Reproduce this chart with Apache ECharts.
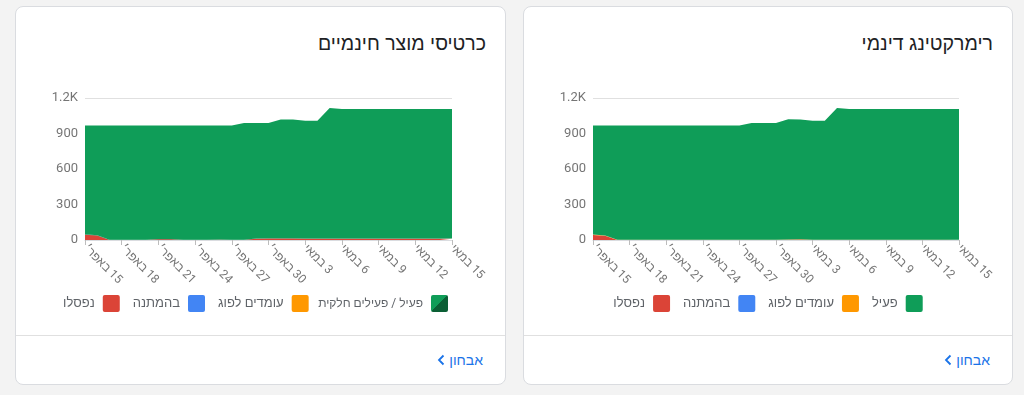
<!DOCTYPE html>
<html dir="rtl">
<head>
<meta charset="utf-8">
<script src="https://cdn.jsdelivr.net/npm/echarts@6/dist/echarts.min.js"></script>
<style>
  html, body { margin: 0; padding: 0; background: #f3f3f3; }
  body { width: 1024px; height: 395px; position: relative; overflow: hidden;
         font-family: Roboto, "Liberation Sans", Arial, sans-serif; }
  .card { position: absolute; top: 6px; height: 379px; box-sizing: border-box;
          background: #fff; border: 1px solid #dadce0; border-radius: 8px; }
  .title { position: absolute; top: 23px; right: 19px; font-size: 19.5px; line-height: 26px;
           color: #202124; font-family: "Liberation Sans", Arial, sans-serif; }
  .chart { position: absolute; left: 0; top: 0; width: 100%; height: 328px; }
  .divider { position: absolute; left: 0; right: 0; top: 328px; border-top: 1px solid #e0e0e0; }
  .link { position: absolute; right: 22px; top: 343px; font-size: 14px; line-height: 20px;
          color: #1a73e8; font-family: "Liberation Sans", Arial, sans-serif; display: flex; align-items: center; gap: 4px; }
</style>
</head>
<body>
<div class="card" style="left:15px;width:491px">
  <div class="title">כרטיסי מוצר חינמיים</div>
  <div class="chart" id="c1"></div>
  <div class="divider"></div>
  <div class="link">אבחון <svg width="8" height="12" viewBox="0 0 8 12"><path d="M6.5 1.5L2 6l4.5 4.5" fill="none" stroke="#1a73e8" stroke-width="1.8"/></svg></div>
</div>
<div class="card" style="left:523px;width:490px">
  <div class="title">רימרקטינג דינמי</div>
  <div class="chart" id="c2"></div>
  <div class="divider"></div>
  <div class="link">אבחון <svg width="8" height="12" viewBox="0 0 8 12"><path d="M6.5 1.5L2 6l4.5 4.5" fill="none" stroke="#1a73e8" stroke-width="1.8"/></svg></div>
</div>
<script>
// dates, 15 Apr .. 15 May
var days = [
  '15 באפר׳','16 באפר׳','17 באפר׳','18 באפר׳','19 באפר׳','20 באפר׳','21 באפר׳','22 באפר׳',
  '23 באפר׳','24 באפר׳','25 באפר׳','26 באפר׳','27 באפר׳','28 באפר׳','29 באפר׳','30 באפר׳',
  '1 במאי','2 במאי','3 במאי','4 במאי','5 במאי','6 במאי','7 במאי','8 במאי',
  '9 במאי','10 במאי','11 במאי','12 במאי','13 במאי','14 במאי','15 במאי'
];
var yTicks = [0, 300, 600, 900, 1200];

// free product listings
var fpActive      = [920,927,965,965,965,965,959,959,965,965,965,963,965,985,975,973,1003,1003,994,994,1103,1093,1093,1093,1093,1093,1093,1093,1093,1093,1093];
var fpPartial     = [3,3,3,3,3,3,3,3,3,3,3,3,3,3,3,3,3,3,3,3,3,3,3,3,3,3,3,3,3,3,3];
var fpExpiring    = [0,0,0,0,0,0,0,0,0,0,0,0,0,0,0,0,0,0,0,0,0,0,0,0,0,0,0,0,0,0,0];
var fpPending     = [0,0,0,0,0,0,0,0,0,0,0,0,0,0,0,0,0,0,0,0,0,0,0,0,0,0,0,0,0,0,0];
var fpDisapproved = [45,38,0,0,0,0,6,6,0,0,0,2,0,0,10,12,12,12,10,10,10,10,10,10,10,10,10,10,10,10,10];

// dynamic remarketing
var drActive      = [922,929,965,965,965,965,965,965,965,965,965,965,965,985,985,985,1015,1011,1004,1004,1113,1103,1103,1103,1103,1103,1103,1103,1103,1103,1103];
var drExpiring    = [4,4,3,3,3,3,3,3,3,3,3,3,3,3,3,3,3,3,3,3,3,3,3,3,3,3,3,3,3,3,3];
var drPending     = [0,0,0,0,0,0,0,0,0,0,0,0,0,0,0,0,0,0,0,0,0,0,0,0,0,0,0,0,0,0,0];
var drDisapproved = [42,35,0,0,0,0,0,0,0,0,0,0,0,0,0,0,2,4,0,0,0,0,0,0,0,0,0,0,0,0,0];

var GREEN = '#0f9d58', DARK = '#0b5f35', ORANGE = '#ff9800', BLUE = '#4285f4', RED = '#db4437';
var FONT = 'Roboto, "Liberation Sans", Arial, sans-serif';
var box = 'path://M2,0H15A2,2 0 0 1 17,2V15A2,2 0 0 1 15,17H2A2,2 0 0 1 0,15V2A2,2 0 0 1 2,0Z';
// two-tone icon: hard stop along the anti-diagonal
var splitFill = new echarts.graphic.LinearGradient(0, 0, 1, 1, [
  { offset: 0, color: GREEN }, { offset: 0.5, color: GREEN },
  { offset: 0.5, color: DARK }, { offset: 1, color: DARK }
]);

function area(name, color, data) {
  return {
    name: name, type: 'line', stack: 'all', data: data,
    showSymbol: false, symbol: 'none', lineStyle: { width: 0 },
    areaStyle: { color: color, opacity: 1 }, itemStyle: { color: color },
    silent: true, animation: false
  };
}

function legend(data, pos, size) {
  var l = {
    data: data, top: 283, align: 'right',
    itemWidth: 17, itemHeight: 17, itemGap: 13, selectedMode: false,
    textStyle: { fontSize: size || 13, color: '#5f6368', fontFamily: FONT, padding: [0, 3, 0, 0] }
  };
  for (var k in pos) l[k] = pos[k];
  return l;
}

function draw(id, series, legends) {
  var chart = echarts.init(document.getElementById(id));
  chart.setOption({
    animation: false,
    textStyle: { fontFamily: FONT },
    grid: { left: 69, right: 53, top: 91, height: 142 },
    legend: legends,
    xAxis: {
      type: 'category', data: days, boundaryGap: false,
      axisLine: { lineStyle: { color: '#dadce0' } },
      axisTick: { interval: 2, length: 5, lineStyle: { color: '#bdbdbd' } },
      axisLabel: { interval: 2, rotate: -45, margin: 7, fontSize: 12, color: '#757575', fontFamily: FONT }
    },
    yAxis: {
      type: 'value', min: yTicks[0], max: yTicks[yTicks.length - 1], interval: 300,
      axisLine: { show: false }, axisTick: { show: false },
      splitLine: { lineStyle: { color: '#e0e0e0' } },
      axisLabel: {
        margin: 7, fontSize: 13, color: '#757575', fontFamily: FONT,
        formatter: function (v) { return v >= 1000 ? (v / 1000) + 'K' : String(v); }
      }
    },
    series: series
  });
}

draw('c1', [
  area('נפסלו', RED, fpDisapproved),
  area('בהמתנה', BLUE, fpPending),
  area('עומדים לפוג', ORANGE, fpExpiring),
  area('פעילים חלקית', DARK, fpPartial),
  area('פעיל / פעילים חלקית', GREEN, fpActive)
], [
  legend([
    { name: 'נפסלו', icon: box },
    { name: 'בהמתנה', icon: box },
    { name: 'עומדים לפוג', icon: box }
  ], { left: 42 }),
  legend([
    { name: 'פעיל / פעילים חלקית', icon: box, itemStyle: { color: splitFill } }
  ], { right: 52 }, 12)
]);

draw('c2', [
  area('נפסלו', RED, drDisapproved),
  area('בהמתנה', BLUE, drPending),
  area('עומדים לפוג', ORANGE, drExpiring),
  area('פעיל', GREEN, drActive)
], [
  legend([
    { name: 'נפסלו', icon: box },
    { name: 'בהמתנה', icon: box },
    { name: 'עומדים לפוג', icon: box },
    { name: 'פעיל', icon: box }
  ], { left: 'center' })
]);
</script>
</body>
</html>
